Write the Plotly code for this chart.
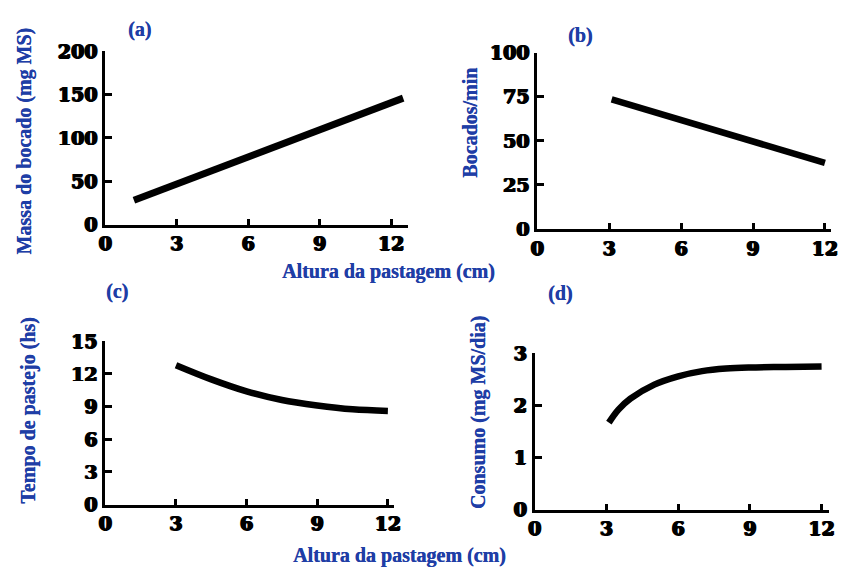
import plotly.graph_objects as go

W, H = 845, 576

# Data
xa = [1.2, 12.5]
ya = [28, 146]

xb = [3.1, 12.0]
yb = [73.5, 37.5]

xc = [3.0, 4.5, 6.0, 7.5, 9.0, 10.5, 12.0]
yc = [12.8, 11.5, 10.4, 9.6, 9.1, 8.75, 8.6]

xd = [3.1, 3.5, 4.0, 5.0, 6.0, 7.0, 8.0, 9.0, 10.5, 12.0]
yd = [1.67, 1.92, 2.13, 2.40, 2.56, 2.66, 2.71, 2.73, 2.74, 2.75]

x_ticks = [0, 3, 6, 9, 12]
ya_ticks = [0, 50, 100, 150, 200]
yb_ticks = [0, 25, 50, 75, 100]
yc_ticks = [0, 3, 6, 9, 12, 15]
yd_ticks = [0, 1, 2, 3]

BLUE = "#1f3ea6"
TICKFONT = dict(family="DejaVu Serif", size=19, color="black", weight="bold",
                shadow="0.9px 0 0 black, -0.9px 0 0 black, 0 0.7px 0 black")
TITLEFONT = dict(family="Liberation Serif", size=20, color=BLUE, weight="bold",
                 shadow="0.4px 0 0 #1f3ea6")


def dom_x(p0, p1, r):
    s = (p1 - p0) / 12.0
    return [(p0 + r[0] * s) / W, (p0 + r[1] * s) / W]


def dom_y(p0, ptop, vtop, r):
    s = (p0 - ptop) / vtop
    return [1 - (p0 - r[0] * s) / H, 1 - (p0 - r[1] * s) / H]


panels = [
    dict(x0=100, x12=390.7, y0=222, yt=42, vt=200, xr=[0, 12.7], yt_vals=ya_ticks, x=xa, y=ya, w=7),
    dict(x0=539.3, x12=831.7, y0=226.7, yt=43.3, vt=100, xr=[0, 12.25], yt_vals=yb_ticks, x=xb, y=yb, w=6.5),
    dict(x0=100, x12=387.3, y0=513.3, yt=343.3, vt=15, xr=[0, 12.25], yt_vals=yc_ticks, x=xc, y=yc, w=6.5),
    dict(x0=536.7, x12=828.3, y0=518.3, yt=356, vt=3, xr=[0, 12.3], yt_vals=yd_ticks, x=xd, y=yd, w=6.5),
]

fig = go.Figure()
layout = dict(
    width=W, height=H, margin=dict(l=0, r=0, t=0, b=0),
    paper_bgcolor="white", plot_bgcolor="white", showlegend=False,
)

for i, p in enumerate(panels, start=1):
    xn = "x" if i == 1 else f"x{i}"
    yn = "y" if i == 1 else f"y{i}"
    yr = [0, p["vt"]]
    fig.add_trace(go.Scatter(
        x=p["x"], y=p["y"], mode="lines", xaxis=xn, yaxis=yn,
        line=dict(color="black", width=p["w"], shape="spline", smoothing=1.0),
        hoverinfo="skip",
    ))
    xkey = "xaxis" if i == 1 else f"xaxis{i}"
    ykey = "yaxis" if i == 1 else f"yaxis{i}"
    layout[xkey] = dict(
        domain=dom_x(p["x0"], p["x12"], p["xr"]), range=p["xr"], anchor=yn,
        tickvals=x_ticks, ticktext=[str(v) for v in x_ticks],
        showgrid=False, zeroline=False, showline=True, linecolor="black", linewidth=3,
        ticks="inside", ticklen=6, tickwidth=2.5, tickcolor="black", tickfont=TICKFONT,
    )
    layout[ykey] = dict(
        domain=dom_y(p["y0"], p["yt"], p["vt"], yr), range=yr, anchor=xn,
        tickvals=p["yt_vals"], ticktext=[str(v) for v in p["yt_vals"]],
        showgrid=False, zeroline=False, showline=True, linecolor="black", linewidth=3,
        ticks="inside", ticklen=7, tickwidth=2.5, tickcolor="black", tickfont=TICKFONT,
        ticklabelstandoff=1,
    )

fig.update_layout(**layout)

annots = [
    ("(a)", 135, 19, 0), ("(b)", 583, 25, 0), ("(c)", 112, 292, 0), ("(d)", 562, 294, 0),
    ("Altura da pastagem (cm)", 388, 271, 0), ("Altura da pastagem (cm)", 399, 566, 0),
    ("Massa do bocado (mg MS)", 18, 135, -90), ("Bocados/min", 470, 116, -90),
    ("Tempo de pastejo (hs)", 22, 415, -90), ("Consumo (mg MS/dia)", 479, 418, -90),
]
for txt, px, py, ang in annots:
    fig.add_annotation(
        text=txt, x=px / W, y=1 - py / H, xref="paper", yref="paper",
        showarrow=False, textangle=ang, font=TITLEFONT,
        xanchor="center", yanchor="middle",
    )

fig.write_html("out.html")
